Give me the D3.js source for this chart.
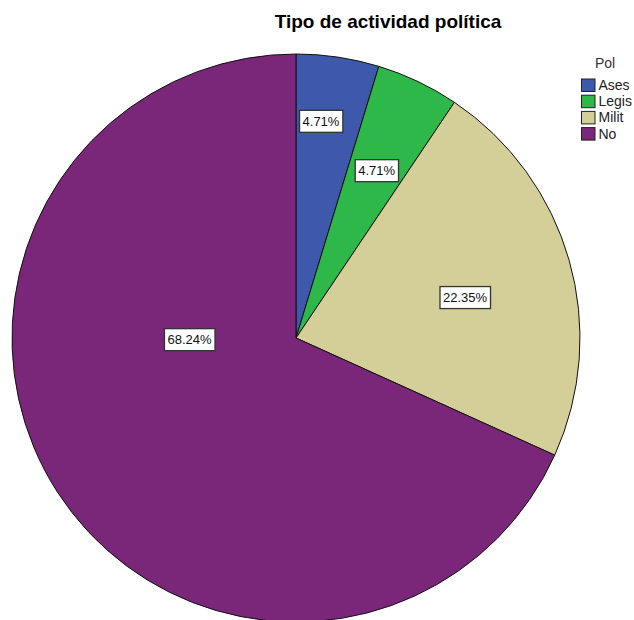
<!DOCTYPE html>
<html><head><meta charset="utf-8">
<script src="https://cdn.jsdelivr.net/npm/d3@7"></script>
<style>body{margin:0;background:#fff;}svg{display:block;font-family:"Liberation Sans",Arial,sans-serif;}</style>
</head><body>
<svg id="c" width="634" height="620"></svg>
<script>
const categories = ["Ases", "Legis", "Milit", "No"];
const percents = [4.71, 4.71, 22.35, 68.24];
const colors = ["#3e58ac", "#2fb84a", "#d4ce98", "#7b2779"];
const title = "Tipo de actividad política";
const legendTitle = "Pol";

const svg = d3.select("#c");
const cx = 296, cy = 338, R = 284;

svg.append("text").attr("x", 388).attr("y", 28).attr("text-anchor", "middle")
  .attr("font-size", 19).attr("font-weight", "bold").attr("fill", "#000").text(title);

const pie = d3.pie().sort(null).value(d => d)(percents);
const arc = d3.arc().innerRadius(0).outerRadius(R);
const g = svg.append("g").attr("transform", `translate(${cx},${cy})`);
g.selectAll("path").data(pie).join("path")
  .attr("d", arc).attr("fill", (d, i) => colors[i])
  .attr("stroke", "#111").attr("stroke-width", 1);

// label placement (SPSS-style): fraction along slice angle and fraction of radius
const angFrac = [0.388, 0.518, 0.530, 0.630];
const radFrac = [0.768, 0.654, 0.612, 0.375];
const lab = g.selectAll("g.lab").data(pie).join("g").attr("class", "lab")
  .attr("transform", (d, i) => {
    const a = d.startAngle + angFrac[i] * (d.endAngle - d.startAngle);
    const r = radFrac[i] * R;
    return `translate(${r * Math.sin(a)},${-r * Math.cos(a)})`;
  });
lab.each(function(d, i) {
  const s = d3.select(this);
  const t = s.append("text").attr("text-anchor", "middle").attr("dy", "0.36em")
    .attr("font-size", 13).attr("fill", "#111").text(percents[i].toFixed(2) + "%");
  const bb = t.node().getBBox();
  s.insert("rect", "text").attr("x", bb.x - 3).attr("y", -11).attr("width", bb.width + 6).attr("height", 22)
    .attr("fill", "#fff").attr("stroke", "#333").attr("stroke-width", 1.3);
});

// legend
svg.append("text").attr("x", 605).attr("y", 68).attr("text-anchor", "middle")
  .attr("font-size", 14).attr("fill", "#333").text(legendTitle);
const lg = svg.selectAll("g.leg").data(categories).join("g").attr("class", "leg")
  .attr("transform", (d, i) => `translate(581.5,${79 + i * 16.2})`);
lg.append("rect").attr("width", 13.5).attr("height", 12.5)
  .attr("fill", (d, i) => colors[i]).attr("stroke", "#222").attr("stroke-width", 1);
lg.append("text").attr("x", 17).attr("y", 11).attr("font-size", 14).attr("fill", "#222").text(d => d);
</script>
</body></html>
